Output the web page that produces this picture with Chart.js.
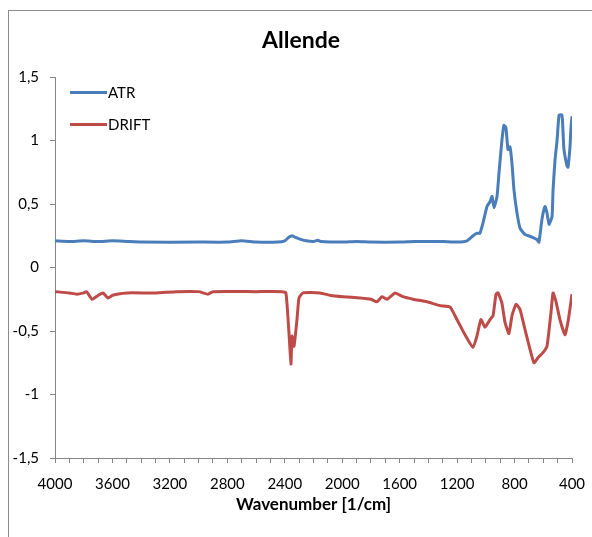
<!DOCTYPE html>
<html>
<head>
<meta charset="utf-8">
<script src="https://cdn.jsdelivr.net/npm/chart.js@4/dist/chart.umd.min.js"></script>
<style>
  html, body { margin: 0; padding: 0; background: #fff; }
  #wrap { width: 592px; height: 537px; }
</style>
</head>
<body>
<div id="wrap"><canvas id="irChart" width="592" height="537"></canvas></div>
<script>
// wavenumbers (1/cm) and values
const atrWavenumber = [4000, 3900, 3800, 3700, 3600, 3500, 3400, 3000, 2800, 2700, 2600, 2450, 2400, 2370, 2350, 2330, 2300, 2250, 2200, 2170, 2150, 2000, 1900, 1800, 1600, 1500, 1400, 1300, 1200, 1131, 1089, 1060, 1041, 1020, 992, 970, 957, 943, 922, 908, 888, 874, 860, 846, 832, 818, 804, 783, 762, 727, 679, 644, 630, 609, 588, 574, 560, 539, 532, 518, 504, 490, 470, 463, 456, 435, 428, 414, 407, 400];
const atrValue = [0.21, 0.205, 0.21, 0.205, 0.21, 0.205, 0.2, 0.2, 0.2, 0.21, 0.2, 0.2, 0.21, 0.24, 0.25, 0.24, 0.225, 0.21, 0.205, 0.215, 0.205, 0.2, 0.205, 0.2, 0.2, 0.205, 0.205, 0.205, 0.2, 0.21, 0.25, 0.27, 0.27, 0.35, 0.48, 0.52, 0.56, 0.47, 0.56, 0.75, 1.0, 1.12, 1.1, 0.93, 0.95, 0.82, 0.61, 0.43, 0.31, 0.26, 0.24, 0.22, 0.2, 0.38, 0.48, 0.43, 0.34, 0.4, 0.61, 0.85, 1.0, 1.2, 1.2, 1.08, 0.93, 0.8, 0.79, 0.95, 1.1, 1.19];

const driftWavenumber = [4000, 3900, 3850, 3800, 3780, 3742, 3700, 3666, 3631, 3600, 3568, 3500, 3300, 3150, 3000, 2935, 2900, 2600, 2420, 2392, 2371, 2357, 2350, 2336, 2315, 2301, 2273, 2155, 2080, 1995, 1876, 1800, 1758, 1723, 1688, 1632, 1577, 1507, 1410, 1319, 1250, 1201, 1145, 1089, 1062, 1034, 1006, 971, 950, 929, 915, 888, 867, 839, 818, 790, 762, 727, 693, 665, 637, 602, 574, 546, 532, 511, 484, 449, 428, 400];
const driftValue = [-0.19, -0.2, -0.21, -0.2, -0.19, -0.25, -0.22, -0.2, -0.24, -0.22, -0.21, -0.2, -0.2, -0.19, -0.19, -0.21, -0.19, -0.19, -0.19, -0.2, -0.51, -0.76, -0.54, -0.62, -0.41, -0.24, -0.2, -0.2, -0.22, -0.23, -0.24, -0.25, -0.27, -0.23, -0.25, -0.2, -0.23, -0.25, -0.27, -0.3, -0.31, -0.41, -0.53, -0.63, -0.54, -0.41, -0.47, -0.41, -0.38, -0.21, -0.2, -0.28, -0.43, -0.52, -0.38, -0.29, -0.33, -0.49, -0.64, -0.75, -0.71, -0.67, -0.62, -0.35, -0.2, -0.27, -0.41, -0.53, -0.43, -0.21];

const seriesNames = ['ATR', 'DRIFT'];
const seriesColors = ['#4A7EBB', '#BE4B48'];

const chartTitle = 'Allende';
const xTitle = 'Wavenumber [1/cm]';

const FONT = 'Lato, "Open Sans", sans-serif';
const axisColor = '#868686';

function pairs(xs, ys) {
    return xs.map((x, i) => ({ x: x, y: ys[i] }));
}

// legend inside the plot, top left, like the Excel original
const insideLegend = {
    id: 'insideLegend',
    afterDatasetsDraw: function(chart) {
        const ctx = chart.ctx;
        ctx.save();
        chart.data.datasets.forEach((ds, i) => {
            const y = 92.5 + i * 32;
            ctx.strokeStyle = ds.borderColor;
            ctx.lineWidth = 3;
            ctx.beginPath();
            ctx.moveTo(70, y);
            ctx.lineTo(107, y);
            ctx.stroke();
            ctx.fillStyle = '#000';
            ctx.font = '15px ' + FONT;
            ctx.textAlign = 'left';
            ctx.textBaseline = 'middle';
            ctx.fillText(ds.label, 108, y + 1);
        });
        ctx.restore();
    }
};

// grey frame round the whole chart and the title above it
const frame = {
    id: 'frame',
    beforeDraw: function(chart) {
        const ctx = chart.ctx;
        ctx.save();
        ctx.fillStyle = '#fff';
        ctx.fillRect(0, 0, chart.width, chart.height);
        ctx.strokeStyle = '#8c8c8c';
        ctx.lineWidth = 1;
        ctx.strokeRect(8.5, 10.5, 640, 600);
        ctx.fillStyle = '#000';
        ctx.font = 'bold 23px ' + FONT;
        ctx.textAlign = 'center';
        ctx.textBaseline = 'middle';
        ctx.fillText(chartTitle, 301, 41);
        ctx.restore();
    }
};

const ctx = document.getElementById('irChart').getContext('2d');
new Chart(ctx, {
    type: 'line',
    data: {
        datasets: [{
            label: seriesNames[0],
            data: pairs(atrWavenumber, atrValue),
            borderColor: seriesColors[0],
            backgroundColor: seriesColors[0],
            borderWidth: 3,
            pointRadius: 0,
            tension: 0.15,
            borderJoinStyle: 'round'
        }, {
            label: seriesNames[1],
            data: pairs(driftWavenumber, driftValue),
            borderColor: seriesColors[1],
            backgroundColor: seriesColors[1],
            borderWidth: 3,
            pointRadius: 0,
            tension: 0.15,
            borderJoinStyle: 'round'
        }]
    },
    options: {
        responsive: false,
        animation: false,
        layout: { padding: { top: 77, left: 9, right: 20, bottom: 0 } },
        scales: {
            x: {
                type: 'linear',
                reverse: true,
                min: 400,
                max: 4000,
                afterFit: function(scale) {
                    scale.height = 79;
                    scale.paddingLeft = 0;
                    scale.paddingRight = 0;
                },
                border: { display: true, color: axisColor },
                grid: { drawOnChartArea: false, drawTicks: true, tickLength: 5, color: axisColor },
                ticks: {
                    stepSize: 100,
                    autoSkip: false,
                    maxRotation: 0,
                    padding: 12,
                    color: '#000',
                    font: { family: FONT, size: 15 },
                    callback: function(v) { return v % 400 === 0 ? String(v) : ''; }
                },
                title: {
                    display: true,
                    text: xTitle,
                    color: '#000',
                    font: { family: FONT, size: 17, weight: 'bold' },
                    padding: { top: 0, bottom: 22 }
                }
            },
            y: {
                min: -1.5,
                max: 1.5,
                afterFit: function(scale) { scale.width = 46; },
                border: { display: true, color: axisColor },
                grid: { drawOnChartArea: false, drawTicks: true, tickLength: 5, color: axisColor },
                ticks: {
                    stepSize: 0.5,
                    padding: 11,
                    color: '#000',
                    font: { family: FONT, size: 15 },
                    callback: function(v) { return String(v).replace('.', ','); }
                }
            }
        },
        plugins: {
            legend: { display: false },
            tooltip: { enabled: false },
            title: { display: false }
        }
    },
    plugins: [frame, insideLegend]
});
</script>
</body>
</html>
